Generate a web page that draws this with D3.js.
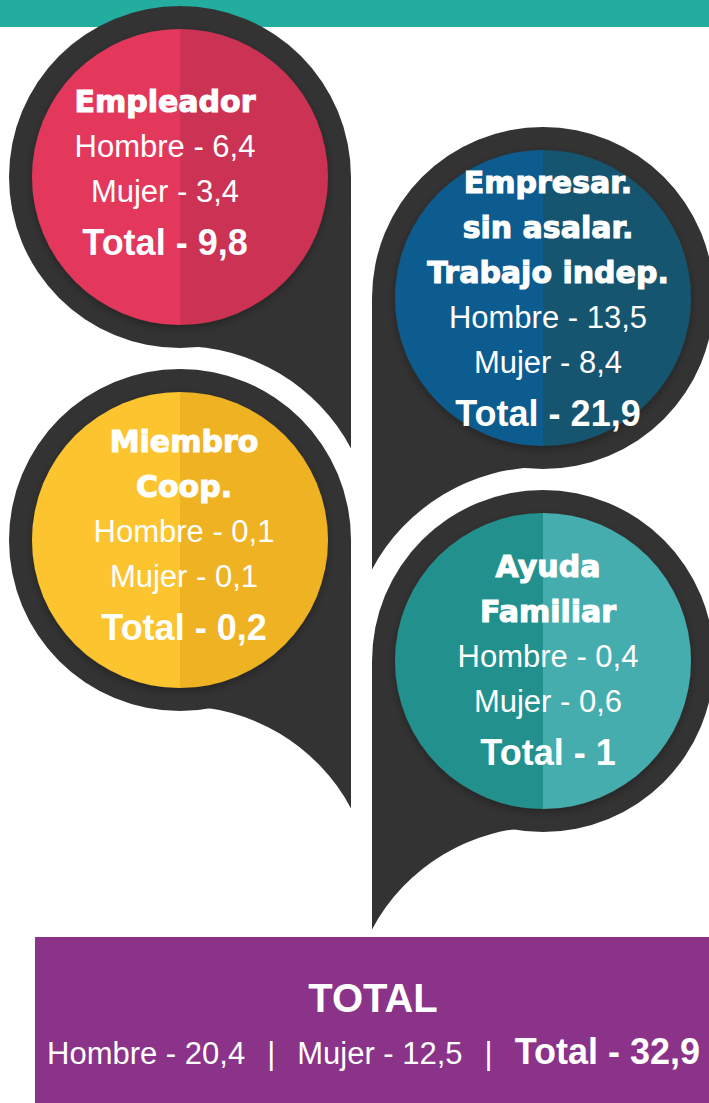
<!DOCTYPE html>
<html>
<head>
<meta charset="utf-8">
<script src="https://cdn.jsdelivr.net/npm/d3@7"></script>
<style>
  body { margin: 0; background: #ffffff; }
  svg { display: block; }
</style>
</head>
<body>
<script>
// data
var categories = [["Empleador"], ["Empresar.", "sin asalar.", "Trabajo indep."], ["Miembro", "Coop."], ["Ayuda", "Familiar"]];
var hombreValues = [6.4, 13.5, 0.1, 0.4];
var mujerValues = [3.4, 8.4, 0.1, 0.6];
var totalValues = [9.8, 21.9, 0.2, 1];
var summaryLabels = ["Hombre", "Mujer", "Total"];
var summaryValues = [20.4, 12.5, 32.9];

// layout of the four pins (tail on the right side or on the left side)
var pins = [
  { cx: 180, cy: 177, side: 1,  cutCy: 540,  textX: 165, textY: 112, light: "#e3395c", dark: "#cb3152" },
  { cx: 543, cy: 298, side: -1, cutCy: 661,  textX: 548, textY: 193, light: "#0f5b8f", dark: "#16546f" },
  { cx: 180, cy: 540, side: 1,  cutCy: 900,  textX: 184, textY: 452, light: "#fcc42d", dark: "#efb222" },
  { cx: 543, cy: 661, side: -1, cutCy: 1021, textX: 548, textY: 577, light: "#23918d", dark: "#45adae" }
];

var svgWidth = 709;
var svgHeight = 1103;
var outerR = 171, innerR = 148, cutR = 194;
var lineH = 45, totalGap = 53;
var darkGrey = "#333333";

var locale = d3.formatLocale({ decimal: ",", thousands: ".", grouping: [3], currency: ["", ""] });
var fmt = locale.format("~g");

var svg = d3.select("body")
  .append("svg")
  .attr("width", svgWidth)
  .attr("height", svgHeight);

var defs = svg.append("defs");
defs.append("filter")
  .attr("id", "shadow")
  .attr("x", "-20%").attr("y", "-20%").attr("width", "140%").attr("height", "140%")
  .append("feDropShadow")
  .attr("dx", 0).attr("dy", 3)
  .attr("stdDeviation", 4)
  .attr("flood-color", "#000")
  .attr("flood-opacity", 0.3);

// top band
svg.append("rect")
  .attr("x", 0).attr("y", 0)
  .attr("width", svgWidth).attr("height", 27)
  .attr("fill", "#23ad9f");

var halfArc = d3.arc().innerRadius(0).outerRadius(innerR);

pins.forEach(function(p, i) {
  var g = svg.append("g");
  var ex = p.cx + p.side * outerR;
  var tipY = p.cutCy - Math.sqrt(cutR * cutR - outerR * outerR);
  var a0 = Math.atan2(tipY - p.cutCy, ex - p.cx);

  // tail
  var tail = d3.path();
  tail.moveTo(p.cx, p.cy);
  tail.lineTo(ex, p.cy);
  tail.lineTo(ex, tipY);
  tail.arc(p.cx, p.cutCy, cutR, a0, -Math.PI / 2, p.side === 1);
  tail.closePath();
  g.append("path").attr("d", tail.toString()).attr("fill", darkGrey);

  g.append("circle")
    .attr("cx", p.cx).attr("cy", p.cy).attr("r", outerR)
    .attr("fill", darkGrey);

  // inner disc split in two halves
  var disc = g.append("g")
    .attr("transform", `translate(${p.cx}, ${p.cy})`)
    .attr("filter", "url(#shadow)");
  disc.append("path")
    .attr("d", halfArc({ startAngle: Math.PI, endAngle: 2 * Math.PI }))
    .attr("fill", p.light);
  disc.append("path")
    .attr("d", halfArc({ startAngle: 0, endAngle: Math.PI }))
    .attr("fill", p.dark);

  // labels
  var y = p.textY;
  categories[i].forEach(function(t, j) {
    g.append("text")
      .attr("x", p.textX).attr("y", y)
      .attr("text-anchor", "middle")
      .attr("fill", "#fff")
      .attr("stroke", "#fff")
      .attr("stroke-width", 1.1)
      .attr("font-family", "DejaVu Sans, sans-serif")
      .attr("font-weight", "bold")
      .attr("font-size", "30px")
      .text(t);
    y += lineH;
  });
  g.append("text")
    .attr("x", p.textX).attr("y", y)
    .attr("text-anchor", "middle")
    .attr("fill", "#fff")
    .attr("font-family", "Liberation Sans, Arial, sans-serif")
    .attr("font-size", "31px")
    .text("Hombre - " + fmt(hombreValues[i]));
  y += lineH;
  g.append("text")
    .attr("x", p.textX).attr("y", y)
    .attr("text-anchor", "middle")
    .attr("fill", "#fff")
    .attr("font-family", "Liberation Sans, Arial, sans-serif")
    .attr("font-size", "31px")
    .text("Mujer - " + fmt(mujerValues[i]));
  y += totalGap;
  g.append("text")
    .attr("x", p.textX).attr("y", y)
    .attr("text-anchor", "middle")
    .attr("fill", "#fff")
    .attr("font-family", "Liberation Sans, Arial, sans-serif")
    .attr("font-weight", "bold")
    .attr("font-size", "36px")
    .text("Total - " + fmt(totalValues[i]));
});

// summary box
svg.append("rect")
  .attr("x", 35).attr("y", 937)
  .attr("width", svgWidth - 35).attr("height", svgHeight - 937)
  .attr("fill", "#8b3289");

svg.append("text")
  .attr("x", 373).attr("y", 1012)
  .attr("text-anchor", "middle")
  .attr("fill", "#fff")
  .attr("font-family", "Liberation Sans, Arial, sans-serif")
  .attr("font-weight", "bold")
  .attr("font-size", "40px")
  .text("TOTAL");

var pieces = [];
summaryLabels.forEach(function(l, i) {
  if (i > 0) pieces.push({ t: "|", bold: false });
  pieces.push({ t: l + " - " + fmt(summaryValues[i]), bold: l === "Total" });
});

var xPos = 47;
pieces.forEach(function(pc) {
  var txt = svg.append("text")
    .attr("x", xPos).attr("y", 1064)
    .attr("fill", "#fff")
    .attr("font-family", "Liberation Sans, Arial, sans-serif")
    .attr("font-weight", pc.bold ? "bold" : "normal")
    .attr("font-size", pc.bold ? "36px" : "31px")
    .text(pc.t);
  xPos += txt.node().getComputedTextLength() + 22;
});
</script>
</body>
</html>
